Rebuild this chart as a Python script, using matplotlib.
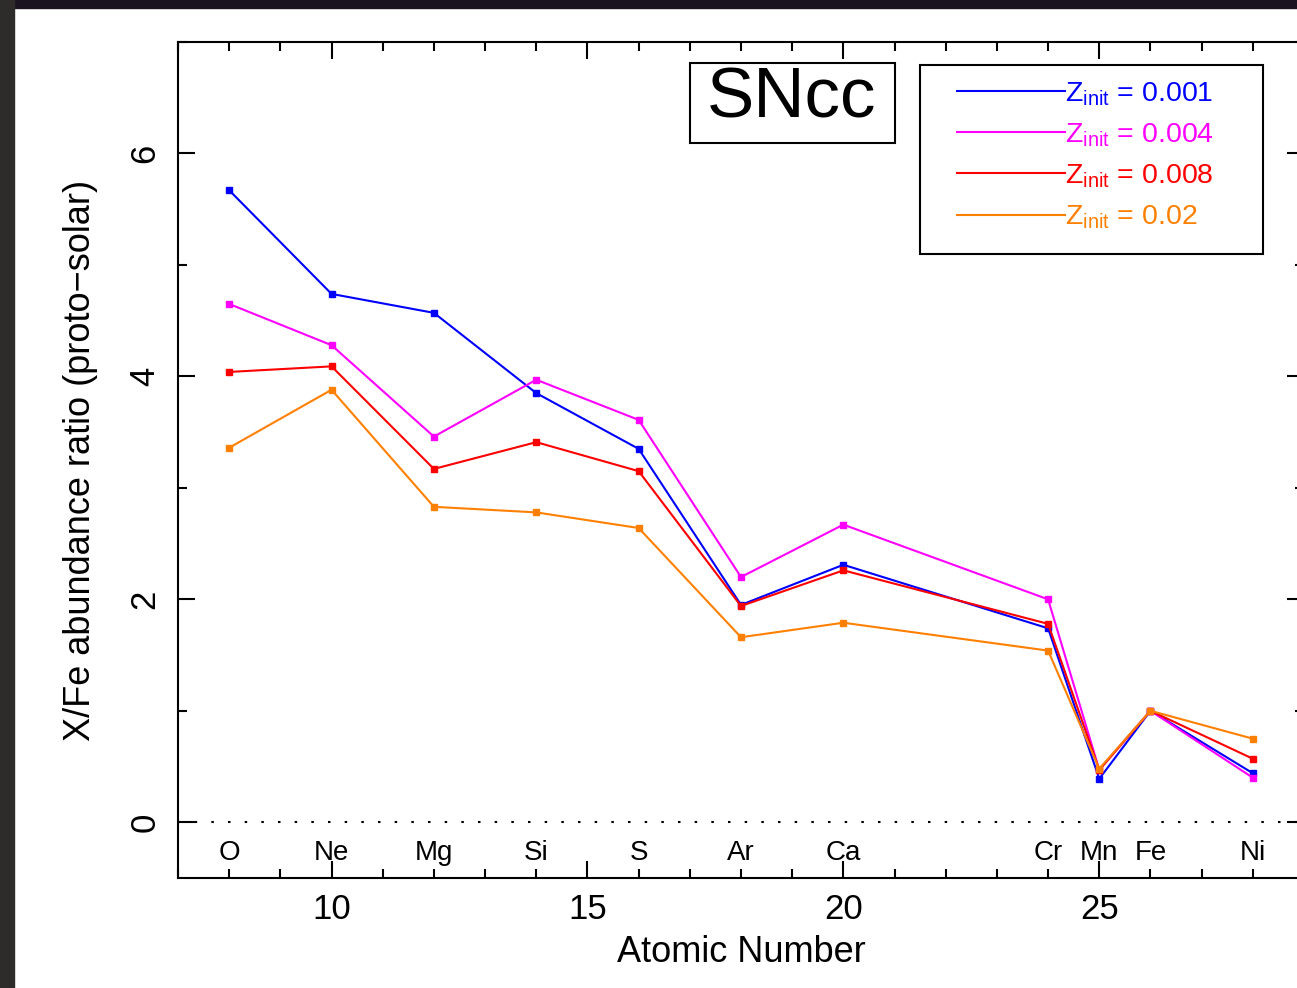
import matplotlib
matplotlib.use('Agg')
import matplotlib.pyplot as plt
from matplotlib.patches import Rectangle
from matplotlib.ticker import MultipleLocator

plt.rcParams['font.family'] = ['Liberation Sans', 'DejaVu Sans']
plt.rcParams['mathtext.fontset'] = 'custom'
plt.rcParams['mathtext.rm'] = 'Liberation Sans'

# atomic numbers and element names
Z = [8, 10, 12, 14, 16, 18, 20, 24, 25, 26, 28]
elements = ['O', 'Ne', 'Mg', 'Si', 'S', 'Ar', 'Ca', 'Cr', 'Mn', 'Fe', 'Ni']

# X/Fe ratios for each initial metallicity
z0001 = [5.67, 4.74, 4.57, 3.85, 3.35, 1.95, 2.31, 1.74, 0.39, 1.0, 0.44]
z0004 = [4.65, 4.28, 3.46, 3.97, 3.61, 2.20, 2.67, 2.00, 0.47, 1.0, 0.40]
z0008 = [4.04, 4.09, 3.17, 3.41, 3.15, 1.94, 2.26, 1.78, 0.47, 1.0, 0.57]
z002 = [3.36, 3.88, 2.83, 2.78, 2.64, 1.66, 1.79, 1.54, 0.48, 1.0, 0.75]

series = [z0001, z0004, z0008, z002]
labels = [r'$\mathrm{Z_{init}}$ = 0.001', r'$\mathrm{Z_{init}}$ = 0.004',
          r'$\mathrm{Z_{init}}$ = 0.008', r'$\mathrm{Z_{init}}$ = 0.02']
colors = ['#0000ff', '#ff00ff', '#ff0000', '#ff8000']

W, H = 1297, 988
fig = plt.figure(figsize=(W / 100, H / 100), dpi=100)

# screenshot border (dark strips top and left)
fig.patches.append(Rectangle((0, 1 - 8 / H), 1, 8 / H, transform=fig.transFigure,
                             color='#1c1320', zorder=0))
fig.patches.append(Rectangle((0, 0), 14 / W, 1, transform=fig.transFigure,
                             color='#2e2c2a', zorder=0))

ax = fig.add_axes([178 / W, 110 / H, 1126 / W, 836 / H])

for vals, lab, c in zip(series, labels, colors):
    ax.plot(Z, vals, '-s', color=c, lw=1.5, ms=5, label=lab)

ax.axhline(0, color='black', lw=1.5, ls=(0, (1.2, 6.8)))

for z, el in zip(Z, elements):
    ax.text(z, -0.34, el, ha='center', va='baseline', fontsize=20)

ax.set_xlim(7, 29)
ax.set_ylim(-0.5, 7)
ax.xaxis.set_major_locator(MultipleLocator(5))
ax.xaxis.set_minor_locator(MultipleLocator(1))
ax.yaxis.set_major_locator(MultipleLocator(2))
ax.yaxis.set_minor_locator(MultipleLocator(1))
ax.tick_params(which='both', direction='in', top=True, right=True, width=1.5)
ax.tick_params(which='major', length=12)
ax.tick_params(which='minor', length=6.5)
ax.tick_params(axis='x', labelsize=25, pad=11)
ax.tick_params(axis='y', labelsize=25, pad=12, labelrotation=90)
for t in ax.get_yticklabels():
    t.set_va('center')
for s in ax.spines.values():
    s.set_linewidth(1.5)

ax.set_xlabel('Atomic Number', fontsize=26, labelpad=6)
ax.set_ylabel('X/Fe abundance ratio (proto\u2212solar)', fontsize=26, labelpad=22)

# SNcc box
fig.patches.append(Rectangle((690 / W, 1 - 143 / H), 205 / W, 80 / H,
                             transform=fig.transFigure, fill=False,
                             edgecolor='black', lw=1.5, zorder=5))
fig.text(792 / W, 1 - 99 / H, 'SNcc', fontsize=51, ha='center', va='center')

# legend box
fig.patches.append(Rectangle((920 / W, 1 - 254 / H), 343 / W, 189 / H,
                             transform=fig.transFigure, fill=False,
                             edgecolor='black', lw=1.5, zorder=5))
leg = ax.legend(loc='upper left', bbox_to_anchor=(957 / W, 1 - 80 / H),
                bbox_transform=fig.transFigure, frameon=False, fontsize=20.5,
                handlelength=3.8, handletextpad=0, labelspacing=0.48,
                borderpad=0, borderaxespad=0, labelcolor='linecolor',
                markerscale=0)
for h in leg.legend_handles:
    h.set_marker('')

fig.savefig('out.png', dpi=100)
